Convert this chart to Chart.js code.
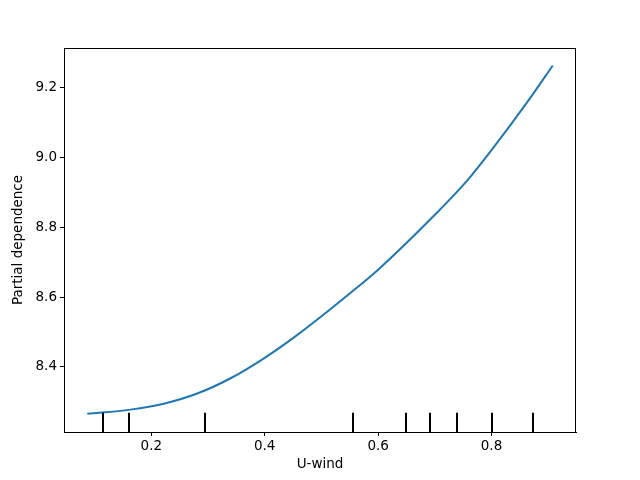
<!DOCTYPE html>
<html>
<head>
<meta charset="utf-8">
<script src="https://cdn.jsdelivr.net/npm/chart.js@4"></script>
<style>
  body { margin: 0; background: #fff; }
  canvas { display: block; }
</style>
</head>
<body>
<canvas id="chart" width="640" height="480"></canvas>
<script>
// partial dependence curve
var uWind = [0.087, 0.163, 0.222, 0.281, 0.339, 0.398, 0.457, 0.55, 0.60, 0.70, 0.757, 0.80, 0.87, 0.908];
var pdValues = [8.266, 8.278, 8.295, 8.324, 8.367, 8.424, 8.491, 8.61, 8.678, 8.835, 8.933, 9.02, 9.173, 9.262];

// decile marks along the bottom
var deciles = [0.115, 0.161, 0.295, 0.556, 0.650, 0.691, 0.739, 0.800, 0.873];

var xTicks = [0.2, 0.4, 0.6, 0.8];
var yTicks = [8.4, 8.6, 8.8, 9.0, 9.2];

var font = { family: "DejaVu Sans", size: 13.5 };

// box round the plot + decile vlines (5% of axes height)
const frameAndRug = {
  id: 'frameAndRug',
  afterDatasetsDraw: (chart) => {
    const { ctx, chartArea, scales } = chart;
    ctx.save();
    ctx.strokeStyle = 'black';
    ctx.lineWidth = 2;
    const h = (chartArea.bottom - chartArea.top) * 0.05;
    deciles.forEach((d) => {
      const x = Math.round(scales.x.getPixelForValue(d));
      ctx.beginPath();
      ctx.moveTo(x, chartArea.bottom);
      ctx.lineTo(x, chartArea.bottom - h);
      ctx.stroke();
    });
    ctx.lineWidth = 1;
    ctx.strokeRect(chartArea.left + 0.5, chartArea.top + 0.5,
      chartArea.right - chartArea.left - 1, chartArea.bottom - chartArea.top);
    ctx.restore();
  }
};

const points = uWind.map((x, i) => ({ x: x, y: pdValues[i] }));

new Chart(document.getElementById("chart"), {
  type: "line",
  data: {
    datasets: [{
      data: points,
      borderColor: "#1f77b4",
      borderWidth: 2,
      pointRadius: 0,
      cubicInterpolationMode: "monotone",
      fill: false
    }]
  },
  options: {
    responsive: false,
    animation: false,
    layout: { padding: { left: 0, top: 48, right: 64, bottom: 0 } },
    plugins: { legend: { display: false }, tooltip: { enabled: false } },
    scales: {
      x: {
        type: "linear",
        min: 0.046,
        max: 0.949,
        afterBuildTicks: (s) => { s.ticks = xTicks.map((v) => ({ value: v })); },
        afterFit: (s) => { s.height = 48; },
        grid: { drawOnChartArea: false, tickLength: 4, tickColor: "black", tickWidth: 1 },
        border: { color: "black", width: 1 },
        ticks: { color: "black", font: font, padding: 2, maxRotation: 0,
          callback: (v) => v.toFixed(1) },
        title: { display: true, text: "U-wind", color: "black", font: font, padding: { top: 0, bottom: 7 } }
      },
      y: {
        min: 8.214,
        max: 9.312,
        afterBuildTicks: (s) => { s.ticks = yTicks.map((v) => ({ value: v })); },
        afterFit: (s) => { s.width = 64; },
        grid: { drawOnChartArea: false, tickLength: 4, tickColor: "black", tickWidth: 1 },
        border: { color: "black", width: 1 },
        ticks: { color: "black", font: font, padding: 3,
          callback: (v) => v.toFixed(1) },
        title: { display: true, text: "Partial dependence", color: "black", font: font, padding: { top: 10, bottom: 0 } }
      }
    }
  },
  plugins: [frameAndRug]
});
</script>
</body>
</html>
